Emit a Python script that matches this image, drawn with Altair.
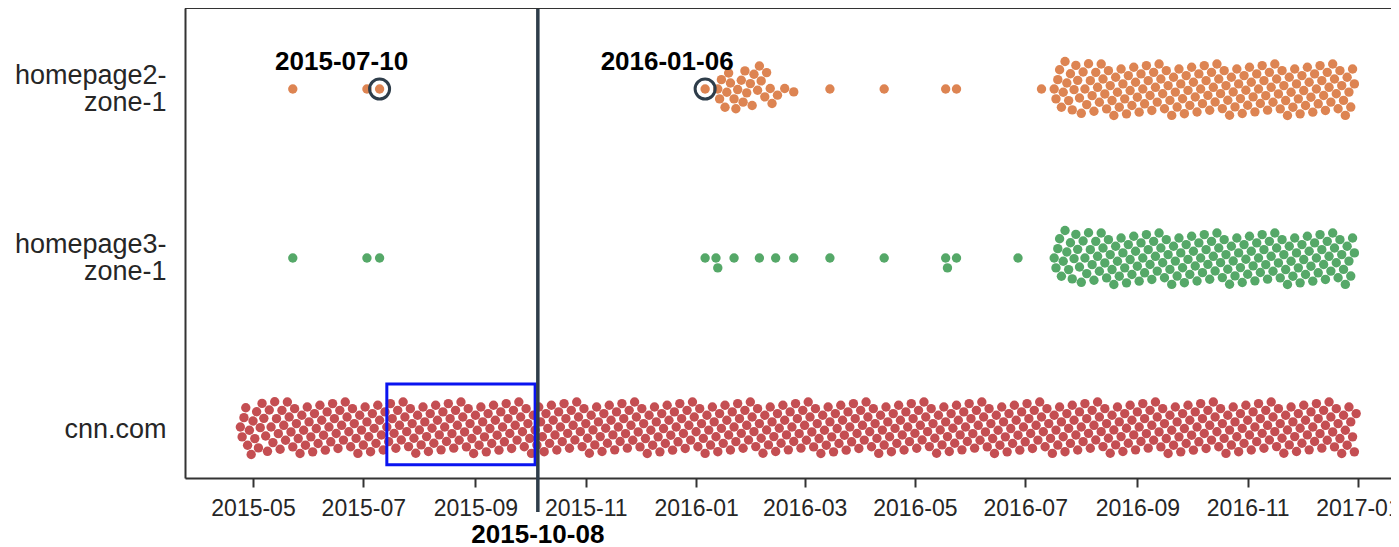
import json
import altair as alt
import numpy as np
import pandas as pd

# ---------------- data ----------------
CATEGORIES = ["homepage2-zone-1", "homepage3-zone-1", "cnn.com"]
LABEL_LINES = [["homepage2-", "zone-1"], ["homepage3-", "zone-1"], ["cnn.com"]]
COLORS = ["#dd8452", "#55a868", "#c44e52"]

HP2_DATES = [
    "2015-05-23", "2015-07-03", "2015-07-10",
    "2016-01-06", "2016-01-13", "2016-01-14", "2016-01-15", "2016-01-17",
    "2016-01-18", "2016-01-19", "2016-01-20", "2016-01-22", "2016-01-23",
    "2016-01-24", "2016-01-26", "2016-01-27", "2016-01-28", "2016-01-29",
    "2016-01-31", "2016-02-01", "2016-02-02", "2016-02-04", "2016-02-05",
    "2016-02-06", "2016-02-08", "2016-02-09", "2016-02-11", "2016-02-12",
    "2016-02-15", "2016-02-19", "2016-02-24",
    "2016-03-15", "2016-04-14", "2016-05-18", "2016-05-24", "2016-07-10",
]
HP3_DATES = [
    "2015-05-23", "2015-07-03", "2015-07-10",
    "2016-01-06", "2016-01-12", "2016-01-13", "2016-01-22", "2016-02-05",
    "2016-02-14", "2016-02-24", "2016-03-15", "2016-04-14", "2016-05-18",
    "2016-05-19", "2016-05-24", "2016-06-27",
]
CNN_DATES = []
# periods in which every day has one observation
HP2_DAILY_SPAN = ("2016-07-17", "2016-12-30")
HP3_DAILY_SPAN = ("2016-07-17", "2016-12-30")
CNN_DAILY_SPAN = ("2015-04-24", "2016-12-31")

TICK_DATES = ["2015-05-01", "2015-07-01", "2015-09-01", "2015-11-01", "2016-01-01",
              "2016-03-01", "2016-05-01", "2016-07-01", "2016-09-01", "2016-11-01",
              "2017-01-01"]

# annotations
MARKED_DATES = ["2015-07-10", "2016-01-06"]
MARKED_ROW = [0, 0]
RULE_DATE = "2015-10-05T12:00:00"
RULE_LABEL = "2015-10-08"
BOX_X = ["2015-07-14", "2015-10-04"]
BOX_Y = [1.7456, 2.2231]

# ---------------- layout ----------------
W, H = 1206, 470
ROW_PX = 169.0
ROW0_PX = 81.0
X_START = "2015-03-24T09:36:00"
X_END = "2017-01-19T06:00:00"
R = 4.8  # swarm collision radius (px)
SLATE = "#2e3d4a"
AXIS_COLOR = "#333333"
TEXT_COLOR = "#262626"
FONT = "Liberation Sans"


def ms(s):
    return int(pd.Timestamp(s).tz_localize("UTC").value // 10**6)


START_MS, END_MS = ms(X_START), ms(X_END)


def to_px(s):
    return (ms(s) - START_MS) / (END_MS - START_MS) * W


def expand(dates, span):
    out = list(dates)
    if span:
        out += [d.strftime("%Y-%m-%d") for d in pd.date_range(span[0], span[1], freq="D")]
    return sorted(out)


def swarm(xs, r):
    """seaborn-like beeswarm: returns offsets (px) perpendicular to value axis"""
    xs = np.asarray(xs, dtype=float)
    order = np.argsort(xs, kind="stable")
    d = 2 * r
    placed_x, placed_y = [], []
    offs = np.zeros(len(xs))
    for idx in order:
        x = xs[idx]
        neigh = [(px, py) for px, py in zip(placed_x[::-1], placed_y[::-1]) if abs(px - x) < d]
        cands = [0.0]
        first = True
        for px, py in neigh:
            dy = np.sqrt(max(d * d - (x - px) ** 2, 0.0)) * 1.05
            pair = [py + dy, py - dy] if first else [py - dy, py + dy]
            cands.extend(pair)
            first = not first
        cands = sorted(cands, key=abs)
        chosen = cands[-1]
        for c in cands:
            if all((x - px) ** 2 + (c - py) ** 2 >= d * d - 1e-6 for px, py in neigh):
                chosen = c
                break
        placed_x.append(x)
        placed_y.append(chosen)
        offs[idx] = chosen
    return offs


rows = []
for i, (cat, dates, span) in enumerate([
    (CATEGORIES[0], HP2_DATES, HP2_DAILY_SPAN),
    (CATEGORIES[1], HP3_DATES, HP3_DAILY_SPAN),
    (CATEGORIES[2], CNN_DATES, CNN_DAILY_SPAN),
]):
    ds = expand(dates, span)
    offs = swarm([to_px(s) for s in ds], R)
    for s, o in zip(ds, offs):
        rows.append({"date": s, "cat": cat, "y": i + o / ROW_PX})
df = pd.DataFrame(rows)

Y_DOMAIN = [-ROW0_PX / ROW_PX, (H - ROW0_PX) / ROW_PX]

label_expr = ""
for i, lines in enumerate(LABEL_LINES[:-1]):
    label_expr += f"datum.value == {i} ? {json.dumps(lines)} : "
label_expr += json.dumps(LABEL_LINES[-1])
LINE_H = 27
multi_idx = [i for i, l in enumerate(LABEL_LINES) if len(l) > 1]
multi_test = " || ".join(f"datum.value == {i}" for i in multi_idx)

x_scale = alt.Scale(type="utc", domain=[START_MS, END_MS], nice=False)
y_scale = alt.Scale(domain=Y_DOMAIN, reverse=True, nice=False, zero=False)

points = alt.Chart(df).mark_circle(size=88, opacity=1).encode(
    x=alt.X("date:T", scale=x_scale, title=None, axis=alt.Axis(
        values=[ms(t) for t in TICK_DATES],
        labelExpr="utcFormat(datum.value, '%Y-%m')",
        labelFontSize=23, labelFont=FONT, labelColor=TEXT_COLOR,
        tickColor=AXIS_COLOR, tickWidth=2, tickSize=9, labelPadding=10,
        domainColor=AXIS_COLOR, domainWidth=2, grid=False,
        labelFlush=False, labelOverlap=False)),
    y=alt.Y("y:Q", scale=y_scale, title=None, axis=alt.Axis(
        values=[0, 1, 2], labelExpr=label_expr,
        labelFontSize=27, labelFont=FONT, labelColor=TEXT_COLOR,
        labelLineHeight=LINE_H, labelPadding=19, ticks=False, tickSize=0,
        labelOffset={"condition": {"test": multi_test, "value": -LINE_H / 2}, "value": 2},
        domainColor=AXIS_COLOR, domainWidth=2, grid=False,
        labelOverlap=False, labelBound=False)),
    color=alt.Color("cat:N", scale=alt.Scale(domain=CATEGORIES, range=COLORS), legend=None),
)

mark_df = pd.DataFrame({"date": MARKED_DATES, "y": MARKED_ROW, "label": MARKED_DATES})
rings = alt.Chart(mark_df).mark_point(shape="circle", size=400, filled=False,
                                      strokeWidth=3, color=SLATE, opacity=1).encode(
    x=alt.X("date:T", title=None), y=alt.Y("y:Q", title=None))
ring_labels = alt.Chart(mark_df).mark_text(fontSize=26, fontWeight="bold", font=FONT,
                                           color="black", dx=-38, dy=-27).encode(
    x=alt.X("date:T", title=None), y=alt.Y("y:Q", title=None), text="label:N")

rule_df = pd.DataFrame({"date": [RULE_DATE], "label": [RULE_LABEL]})
rule = alt.Chart(rule_df).mark_rule(color=SLATE, strokeWidth=3.5).encode(
    x=alt.X("date:T", title=None), y=alt.value(0), y2=alt.value(504))
rule_label = alt.Chart(rule_df).mark_text(fontSize=26, fontWeight="bold", font=FONT,
                                          color="black", baseline="middle").encode(
    x=alt.X("date:T", title=None), y=alt.value(526.5), text="label:N")

box_df = pd.DataFrame({"date": [BOX_X[0]], "date2": [BOX_X[1]], "y": [BOX_Y[0]], "y2": [BOX_Y[1]]})
box = alt.Chart(box_df).mark_rect(fillOpacity=0, stroke="#0a14f0", strokeWidth=3).encode(
    x=alt.X("date:T", title=None), x2="date2:T", y=alt.Y("y:Q", title=None), y2="y2:Q")

top_line = alt.Chart(pd.DataFrame({"k": [0]})).mark_rule(color=AXIS_COLOR, strokeWidth=2).encode(
    x=alt.value(0), x2=alt.value(W), y=alt.value(0))

chart = alt.layer(points, box, rule, rings, ring_labels, rule_label, top_line).properties(
    width=W, height=H,
    autosize=alt.AutoSizeParams(type="none"),
    padding={"left": 177, "top": 0, "right": 0, "bottom": 76},
).configure_view(stroke=None).configure(font=FONT)

chart.save("out.html", embed_options={"renderer": "svg", "actions": False})
